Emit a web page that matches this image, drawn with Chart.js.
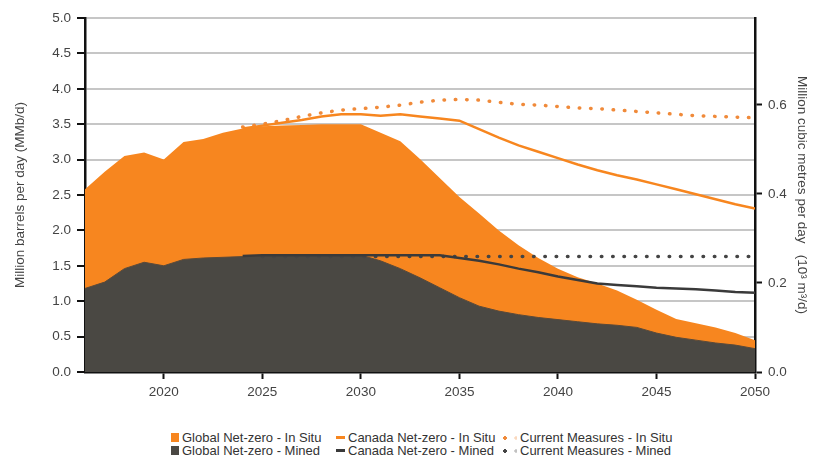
<!DOCTYPE html>
<html>
<head>
<meta charset="utf-8">
<script src="https://cdn.jsdelivr.net/npm/chart.js@4.4.1/dist/chart.umd.min.js"></script>
<style>
    body { margin: 0; background: #fff; font-family: Arial, "Liberation Sans", sans-serif; }
    #wrap { position: relative; width: 814px; height: 459px; }
    #chart { position: absolute; left: 0; top: 0; }
    #legend {
        position: absolute; left: 171px; top: 431px;
        display: grid; grid-auto-flow: column;
        grid-template-rows: 13px 13px;
        grid-template-columns: 166px 168px 200px;
        font-size: 13px; color: #333; line-height: 13px;
    }
    .item { display: flex; align-items: center; white-space: nowrap; }
    .sw { display: inline-block; flex: none; }
</style>
</head>
<body>
<div id="wrap">
    <canvas id="chart" width="814" height="400"></canvas>
    <div id="legend"></div>
</div>
<script>
// years on the x axis
const years = [2016, 2017, 2018, 2019, 2020, 2021, 2022, 2023, 2024, 2025,
    2026, 2027, 2028, 2029, 2030, 2031, 2032, 2033, 2034, 2035,
    2036, 2037, 2038, 2039, 2040, 2041, 2042, 2043, 2044, 2045,
    2046, 2047, 2048, 2049, 2050];

// MMb/d (in situ = top of the orange area)
const globalInSitu = [2.58, 2.83, 3.05, 3.10, 3.00, 3.25, 3.29, 3.38, 3.44, 3.47,
    3.48, 3.49, 3.50, 3.50, 3.50, 3.38, 3.26, 3.01, 2.74, 2.47,
    2.24, 2.00, 1.79, 1.61, 1.46, 1.34, 1.25, 1.15, 1.02, 0.88,
    0.75, 0.69, 0.63, 0.55, 0.45];
const globalMined = [1.18, 1.27, 1.46, 1.55, 1.50, 1.59, 1.61, 1.62, 1.63, 1.64,
    1.65, 1.65, 1.65, 1.65, 1.65, 1.57, 1.46, 1.33, 1.19, 1.05,
    0.93, 0.86, 0.81, 0.77, 0.74, 0.71, 0.68, 0.66, 0.63, 0.55,
    0.49, 0.45, 0.41, 0.38, 0.33];
const canadaInSitu = [null, null, null, null, null, null, null, null, 3.44, 3.48,
    3.52, 3.56, 3.61, 3.64, 3.64, 3.62, 3.64, 3.61, 3.58, 3.55,
    3.43, 3.31, 3.20, 3.11, 3.02, 2.93, 2.85, 2.78, 2.72, 2.65,
    2.58, 2.51, 2.44, 2.37, 2.31];
const canadaMined = [null, null, null, null, null, null, null, null, 1.64, 1.65,
    1.65, 1.65, 1.65, 1.65, 1.65, 1.65, 1.65, 1.65, 1.65, 1.61,
    1.57, 1.52, 1.46, 1.41, 1.35, 1.30, 1.25, 1.23, 1.21, 1.19,
    1.18, 1.17, 1.15, 1.13, 1.12];
const currentInSitu = [null, null, null, null, null, null, null, null, 3.46, 3.50,
    3.55, 3.61, 3.66, 3.70, 3.72, 3.74, 3.77, 3.81, 3.84, 3.85,
    3.84, 3.81, 3.78, 3.77, 3.75, 3.73, 3.72, 3.70, 3.68, 3.66,
    3.64, 3.62, 3.61, 3.60, 3.59];
const currentMined = [null, null, null, null, null, null, null, null, null, 1.63,
    1.63, 1.63, 1.63, 1.63, 1.63, 1.63, 1.63, 1.63, 1.63, 1.63,
    1.63, 1.63, 1.63, 1.63, 1.63, 1.63, 1.63, 1.63, 1.63, 1.63,
    1.63, 1.63, 1.63, 1.63, 1.63];

// tick labels
const xTicks = [2020, 2025, 2030, 2035, 2040, 2045, 2050];
const rightTicks = [0.0, 0.2, 0.4, 0.6];
const yMax = 5.0;
const barrelsPerCubicMetre = 6.2898;

const ORANGE = '#F7861F';
const DARK = '#4A4843';
const FONT = 'Arial, "Liberation Sans", sans-serif';

const toPoints = vals => years.map((yr, i) => ({ x: yr, y: vals[i] }));

const datasets = [
    {
        label: 'Global Net-zero - In Situ', data: toPoints(globalInSitu), legendType: 'box',
        backgroundColor: ORANGE, borderColor: ORANGE, borderWidth: 0, fill: 'origin', order: 6
    },
    {
        label: 'Global Net-zero - Mined', data: toPoints(globalMined), legendType: 'box',
        backgroundColor: DARK, borderColor: '#5a4a3a', borderWidth: 1, fill: 'origin', order: 5
    },
    {
        label: 'Canada Net-zero - In Situ', data: toPoints(canadaInSitu), legendType: 'line',
        borderColor: ORANGE, borderWidth: 2.5, fill: false, order: 3
    },
    {
        label: 'Canada Net-zero - Mined', data: toPoints(canadaMined), legendType: 'line',
        borderColor: '#3a3a3a', borderWidth: 2.5, fill: false, order: 1
    },
    {
        label: 'Current Measures - In Situ', data: toPoints(currentInSitu), legendType: 'dot',
        borderColor: '#F08A3A', borderWidth: 3.5, borderDash: [0.5, 10.8], borderCapStyle: 'round',
        fill: false, order: 4
    },
    {
        label: 'Current Measures - Mined', data: toPoints(currentMined), legendType: 'dot',
        borderColor: '#444444', borderWidth: 3.5, borderDash: [0.5, 10.8], borderCapStyle: 'round',
        fill: false, order: 2
    }
];

const tickFont = { family: FONT, size: 13.5 };

const chart = new Chart(document.getElementById('chart'), {
    type: 'line',
    data: { datasets: datasets },
    options: {
        responsive: false,
        animation: false,
        layout: { padding: { top: 18, left: 0, right: 0, bottom: 0 } },
        elements: { point: { radius: 0 }, line: { tension: 0 } },
        plugins: { legend: { display: false }, tooltip: { enabled: false } },
        scales: {
            x: {
                type: 'linear', min: 2016, max: 2050,
                afterBuildTicks: s => { s.ticks = xTicks.map(v => ({ value: v })); },
                afterFit: s => { s.height = 28; },
                grid: { drawOnChartArea: false, tickLength: 7, tickColor: '#111', tickWidth: 2 },
                border: { color: '#111', width: 2.5 },
                ticks: { font: tickFont, color: '#444', padding: 5, callback: v => String(v) }
            },
            y: {
                position: 'left', min: 0, max: yMax,
                ticks: { stepSize: 0.5, font: tickFont, color: '#444', padding: 6, callback: v => v.toFixed(1) },
                afterFit: s => { s.width = 85; },
                grid: { color: '#c6c6c6', lineWidth: 2, tickLength: 8, tickColor: '#111', tickWidth: 2 },
                border: { color: '#111', width: 2.5 },
                title: {
                    display: true, text: 'Million barrels per day (MMb/d)', color: '#444',
                    font: { family: FONT, size: 13.5 }, padding: { top: 12, bottom: 0 }
                }
            },
            y2: {
                position: 'right', min: 0, max: yMax / barrelsPerCubicMetre,
                afterBuildTicks: s => { s.ticks = rightTicks.map(v => ({ value: v })); },
                afterFit: s => { s.width = 59; },
                ticks: { font: tickFont, color: '#444', padding: 6, callback: v => v.toFixed(1) },
                grid: { drawOnChartArea: false, tickLength: 7, tickColor: '#111', tickWidth: 2 },
                border: { color: '#111', width: 2.5 },
                title: {
                    display: true, text: 'Million cubic metres per day\u00a0\u00a0\u00a0(10\u00b3 m\u00b3/d)', color: '#444',
                    font: { family: FONT, size: 13.5 }, padding: { top: 4, bottom: 0 }
                }
            }
        }
    }
});

// legend: two rows, three columns (in situ on top, mined below)
const legendEl = document.getElementById('legend');
datasets.forEach(ds => {
    const item = document.createElement('div');
    item.className = 'item';
    const sw = document.createElement('span');
    sw.className = 'sw';
    if (ds.legendType === 'box') {
        sw.style.cssText = `width:8px;height:9px;background:${ds.backgroundColor};margin-right:3px;`;
    } else if (ds.legendType === 'line') {
        sw.style.cssText = `width:9px;height:3px;background:${ds.borderColor};margin-left:-1px;margin-right:3px;`;
    } else {
        sw.style.cssText = `width:14px;height:4px;margin-left:-2px;margin-right:3px;` +
            `background:radial-gradient(circle at 2px 2px, ${ds.borderColor} 1.6px, transparent 2px),` +
            `radial-gradient(circle at 13px 2px, ${ds.borderColor}55 1.4px, transparent 2px);`;
    }
    item.appendChild(sw);
    item.appendChild(document.createTextNode(ds.label));
    legendEl.appendChild(item);
});
</script>
</body>
</html>
